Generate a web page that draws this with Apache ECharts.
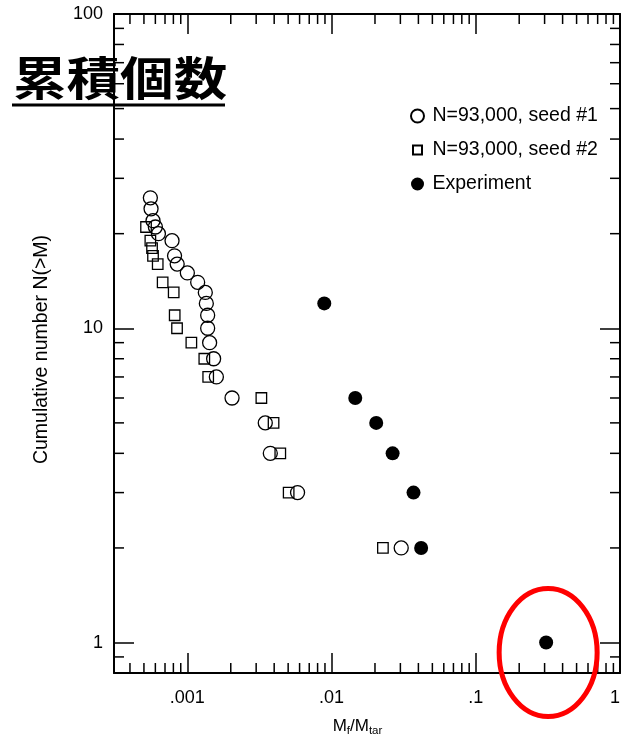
<!DOCTYPE html>
<html><head><meta charset="utf-8">
<script src="https://cdn.jsdelivr.net/npm/echarts@6/dist/echarts.min.js"></script>
<style>html,body{margin:0;padding:0;background:#fff}#c{width:622px;height:742px}</style>
</head><body><div id="c"></div>
<script>
// Seed #1 (open circles)
const seed1M = [5.54e-4,5.60e-4,5.78e-4,6.00e-4,6.30e-4,7.83e-4,8.15e-4,8.50e-4,1.0e-3,1.179e-3,1.332e-3,1.354e-3,1.383e-3,1.383e-3,1.427e-3,1.521e-3,1.589e-3,2.041e-3,3.47e-3,3.76e-3,5.81e-3,3.04e-2];
const seed1N = [26,24,22,21,20,19,17,16,15,14,13,12,11,10,9,8,7,6,5,4,3,2];
// Seed #2 (open squares)
const seed2M = [5.17e-4,5.54e-4,5.69e-4,5.78e-4,6.23e-4,6.74e-4,8.04e-4,8.17e-4,8.48e-4,1.066e-3,1.311e-3,1.395e-3,3.26e-3,3.96e-3,4.41e-3,5.04e-3,2.27e-2];
const seed2N = [21,19,18,17,16,14,13,11,10,9,8,7,6,5,4,3,2];
// Experiment (filled circles)
const expM = [8.90e-3,1.46e-2,2.04e-2,2.65e-2,3.70e-2,4.18e-2,0.3075];
const expN = [12,6,5,4,3,2,1];
const circledPoint = [0.3075, 1];

const xTickValues = [0.001, 0.01, 0.1, 1];
const xTickLabels = ['.001', '.01', '.1', '1'];
const yTickValues = [1, 10, 100];
const yTickLabels = ['1', '10', '100'];
const xMinorTicks = [4e-4,5e-4,6e-4,7e-4,8e-4,9e-4,2e-3,3e-3,4e-3,5e-3,6e-3,7e-3,8e-3,9e-3,2e-2,3e-2,4e-2,5e-2,6e-2,7e-2,8e-2,9e-2,0.2,0.3,0.4,0.5,0.6,0.7,0.8,0.9];
const yMinorTicks = [0.9,2,3,4,5,6,7,8,9,20,30,40,50,60,70,80,90];

const X_MIN = 0.00031, X_MAX = 1, Y_MIN = 0.8, Y_MAX = 100;
const FONT = 'Liberation Sans, Arial, sans-serif';
const S1 = 'N=93,000, seed #1', S2 = 'N=93,000, seed #2', S3 = 'Experiment';

function lookup(vals, labels, v) {
  for (let i = 0; i < vals.length; i++) if (Math.abs(v - vals[i]) / vals[i] < 1e-6) return labels[i];
  return '';
}
const tickLine = {color: '#000', width: 1.5};
const axLine = {show: true, onZero: false, lineStyle: {color: '#000', width: 2}};

const chart = echarts.init(document.getElementById('c'), null, {renderer: 'canvas'});
chart.setOption({
  animation: false,
  backgroundColor: '#fff',
  grid: {left: 114, top: 14, width: 506, height: 659, containLabel: false, outerBoundsMode: 'none'},
  legend: {
    orient: 'vertical', left: 405, top: 101, itemWidth: 20, itemHeight: 13, itemGap: 14,
    selectedMode: false,
    textStyle: {fontSize: 19.5, color: '#000', fontFamily: FONT},
    data: [{name: S1}, {name: S2, icon: 'path://M0,0M2,2h9v9h-9zM13,13'}, {name: S3}]
  },
  xAxis: [{
    type: 'log', min: X_MIN, max: X_MAX, position: 'bottom',
    axisLine: axLine,
    axisTick: {inside: true, length: 20, lineStyle: tickLine},
    axisLabel: {margin: 16, fontSize: 18, color: '#000', fontFamily: FONT, alignMaxLabel: 'right',
      formatter: v => lookup(xTickValues, xTickLabels, v)},
    splitLine: {show: false},
    name: 'M{s|f}/M{s|tar}', nameLocation: 'middle', nameGap: 42,
    nameTextStyle: {fontSize: 17, color: '#000', fontFamily: FONT, lineHeight: 22, padding: [0, 19, 0, 0],
      rich: {s: {fontSize: 11.5, lineHeight: 11, verticalAlign: 'bottom', fontFamily: FONT, color: '#000'}}}
  }, {
    type: 'log', min: X_MIN, max: X_MAX, position: 'top',
    axisLine: axLine,
    axisTick: {inside: true, length: 20, lineStyle: tickLine},
    axisLabel: {show: false}, splitLine: {show: false}
  }],
  yAxis: [{
    type: 'log', min: Y_MIN, max: Y_MAX, position: 'left',
    axisLine: axLine,
    axisTick: {inside: true, length: 20, lineStyle: tickLine},
    axisLabel: {margin: 11, fontSize: 18, color: '#000', fontFamily: FONT,
      formatter: v => lookup(yTickValues, yTickLabels, v)},
    splitLine: {show: false},
    name: 'Cumulative number N(>M)', nameLocation: 'middle', nameGap: 62,
    nameTextStyle: {fontSize: 19.5, color: '#000', fontFamily: FONT, padding: [0, 0, 0, -12]}
  }, {
    type: 'log', min: Y_MIN, max: Y_MAX, position: 'right',
    axisLine: axLine,
    axisTick: {inside: true, length: 20, lineStyle: tickLine},
    axisLabel: {show: false}, splitLine: {show: false}
  }],
  graphic: [
    {type: 'text', x: 13, y: 55, scaleX: 1.05, scaleY: 0.9, z: 100,
      style: {text: '累積個数', font: 'bold 51px "Noto Sans CJK JP"', fill: '#000', textVerticalAlign: 'top'}},
    {type: 'line', z: 100, shape: {x1: 12, y1: 105, x2: 225, y2: 105}, style: {stroke: '#000', lineWidth: 3}}
  ],
  series: [
    {type: 'custom', silent: true, z: 3, data: xMinorTicks.map(v => [v, 1]),
      renderItem: (params, api) => {
        const p = api.coord([api.value(0), 1]); const cs = params.coordSys;
        const b = cs.y + cs.height, t = cs.y;
        return {type: 'group', children: [
          {type: 'line', shape: {x1: p[0], y1: b, x2: p[0], y2: b - 10}, style: {stroke: '#000', lineWidth: 1.5}},
          {type: 'line', shape: {x1: p[0], y1: t, x2: p[0], y2: t + 10}, style: {stroke: '#000', lineWidth: 1.5}}
        ]};
      }},
    {type: 'custom', silent: true, z: 3, data: yMinorTicks.map(v => [0.01, v]),
      renderItem: (params, api) => {
        const p = api.coord([0.01, api.value(1)]); const cs = params.coordSys;
        const l = cs.x, r = cs.x + cs.width;
        return {type: 'group', children: [
          {type: 'line', shape: {x1: l, y1: p[1], x2: l + 10, y2: p[1]}, style: {stroke: '#000', lineWidth: 1.5}},
          {type: 'line', shape: {x1: r, y1: p[1], x2: r - 10, y2: p[1]}, style: {stroke: '#000', lineWidth: 1.5}}
        ]};
      }},
    {type: 'scatter', name: S1, symbol: 'circle', symbolSize: 14, z: 5,
      data: seed1M.map((m, i) => [m, seed1N[i]]),
      itemStyle: {color: 'rgba(255,255,255,0)', borderColor: '#000', borderWidth: 1.3, opacity: 1}},
    {type: 'scatter', name: S2, symbol: 'rect', symbolSize: 10.5, z: 5,
      data: seed2M.map((m, i) => [m, seed2N[i]]),
      itemStyle: {color: 'rgba(255,255,255,0)', borderColor: '#000', borderWidth: 1.3, opacity: 1}},
    {type: 'scatter', name: S3, symbol: 'circle', symbolSize: 14, z: 5,
      data: expM.map((m, i) => [m, expN[i]]),
      itemStyle: {color: '#000', opacity: 1}},
    {type: 'custom', silent: true, z: 20, clip: false, data: [circledPoint],
      renderItem: (params, api) => {
        const p = api.coord([api.value(0), api.value(1)]);
        return {type: 'ellipse', shape: {cx: p[0] + 2, cy: p[1] + 10, rx: 49, ry: 64},
          style: {fill: 'none', stroke: '#f00', lineWidth: 5}};
      }}
  ]
});
</script></body></html>
